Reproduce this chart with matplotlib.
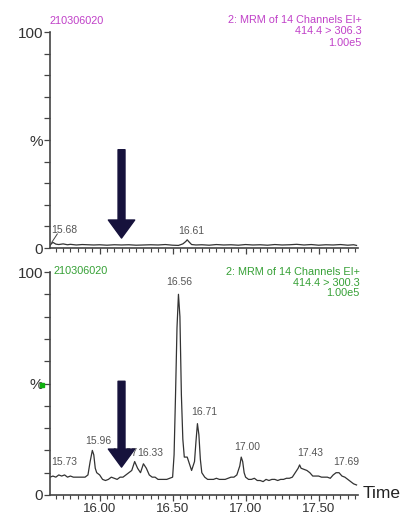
import matplotlib
matplotlib.use("Agg")
import matplotlib.pyplot as plt
from matplotlib.ticker import MultipleLocator, FixedLocator, FormatStrFormatter

plt.rcParams['font.family'] = ['Liberation Sans', 'DejaVu Sans']

# ---- data (time in min, intensity in %) ----
top_time = [15.66, 15.67, 15.68, 15.70, 15.72, 15.75, 15.78, 15.80, 15.84, 15.88,
            15.92, 15.96, 16.00, 16.05, 16.10, 16.15, 16.20, 16.25, 16.30, 16.35,
            16.40, 16.45, 16.50, 16.54, 16.57, 16.59, 16.60, 16.61, 16.63, 16.66,
            16.70, 16.75, 16.80, 16.85, 16.90, 16.95, 17.00, 17.05, 17.10, 17.15,
            17.20, 17.25, 17.30, 17.35, 17.40, 17.45, 17.50, 17.55, 17.60, 17.65,
            17.70, 17.74, 17.76]
top_pct = [1.2, 2.0, 2.6, 1.8, 1.6, 1.9, 1.5, 1.7, 1.4, 1.6,
           1.5, 1.4, 1.5, 1.3, 1.5, 1.4, 1.5, 1.3, 1.4, 1.5,
           1.4, 1.6, 1.3, 1.2, 1.9, 3.0, 3.8, 3.0, 1.6, 1.4,
           1.5, 1.3, 1.6, 1.4, 1.5, 1.3, 1.6, 1.4, 1.5, 1.3,
           1.6, 1.4, 1.5, 1.7, 1.4, 1.6, 1.3, 1.5, 1.4, 1.6,
           1.3, 1.5, 1.2]

bot_time = [15.66, 15.68, 15.70, 15.72, 15.74, 15.76, 15.78, 15.80, 15.82, 15.84,
            15.86, 15.88, 15.90, 15.92, 15.935, 15.95, 15.96, 15.97, 15.98, 16.00,
            16.02, 16.04, 16.06, 16.08, 16.10, 16.12, 16.14, 16.16, 16.18, 16.20,
            16.22, 16.24, 16.26, 16.28, 16.30, 16.32, 16.34, 16.36, 16.38, 16.40,
            16.42, 16.44, 16.46, 16.48, 16.50, 16.51, 16.52, 16.53, 16.54, 16.55,
            16.56, 16.57, 16.58, 16.60, 16.62, 16.63, 16.65, 16.66, 16.67, 16.68,
            16.69, 16.70, 16.72, 16.74, 16.76, 16.78, 16.80, 16.82, 16.84, 16.86,
            16.88, 16.90, 16.92, 16.94, 16.96, 16.97, 16.98, 16.99, 17.00, 17.02,
            17.04, 17.06, 17.08, 17.10, 17.12, 17.14, 17.16, 17.18, 17.20, 17.22,
            17.24, 17.26, 17.28, 17.30, 17.32, 17.34, 17.36, 17.37, 17.38, 17.40,
            17.42, 17.44, 17.46, 17.48, 17.50, 17.52, 17.54, 17.56, 17.58, 17.60,
            17.62, 17.64, 17.66, 17.68, 17.70, 17.72, 17.74, 17.76]
bot_pct = [8.0, 8.5, 8.0, 9.0, 8.5, 9.0, 8.0, 8.5, 8.0, 8.0,
           8.0, 8.0, 8.0, 9.0, 15.0, 20.0, 18.0, 12.0, 10.0, 9.0,
           7.0, 6.5, 7.0, 8.0, 7.5, 7.0, 8.0, 8.0, 9.0, 10.0,
           11.0, 15.0, 12.0, 10.0, 14.0, 12.0, 9.0, 8.0, 8.0, 7.0,
           7.0, 7.0, 7.0, 7.5, 8.0, 18.0, 45.0, 75.0, 90.0, 80.0,
           45.0, 25.0, 17.0, 17.0, 13.0, 11.0, 15.0, 24.0, 32.0, 27.0,
           16.0, 10.0, 8.0, 7.0, 7.0, 7.0, 7.5, 7.0, 7.0, 7.0,
           7.5, 8.0, 8.0, 9.0, 13.0, 17.0, 15.0, 10.0, 8.0, 7.0,
           7.0, 7.5, 6.5, 6.5, 6.0, 7.0, 6.5, 7.0, 7.0, 6.5,
           7.0, 7.0, 7.5, 7.5, 8.0, 10.0, 12.0, 13.5, 12.0, 11.5,
           11.0, 10.0, 8.5, 8.5, 8.5, 8.0, 8.0, 8.0, 7.5, 9.0,
           10.0, 10.0, 8.5, 8.0, 7.0, 6.0, 5.0, 4.5]

# peak annotations: (label, x, y)
top_labels = [("15.68", 15.76, 8.3), ("16.61", 16.63, 8.0)]
bot_labels = [("15.73", 15.76, 14.8), ("15.96", 15.99, 24.0), ("16.27", 16.17, 19.0),
              ("16.33", 16.345, 19.0), ("16.56", 16.545, 95.5), ("16.71", 16.715, 37.0),
              ("17.00", 17.01, 21.5), ("17.43", 17.445, 19.0), ("17.69", 17.69, 15.0)]

sample_id = "210306020"
top_header = ["2: MRM of 14 Channels EI+", "414.4 > 306.3", "1.00e5"]
bot_header = ["2: MRM of 14 Channels EI+", "414.4 > 300.3", "1.00e5"]
x_ticks = [16.00, 16.50, 17.00, 17.50]

W, H = 403, 517
magenta = '#c040c8'
green = '#35a035'
navy = '#16123c'
grey = '#555555'


def fx(px):
    return px / W


def fy(py):
    return 1 - py / H


fig = plt.figure(figsize=(W / 100, H / 100), dpi=100)
ax_top = fig.add_axes([fx(50), fy(248), fx(308), 216 / H])
ax_bot = fig.add_axes([fx(50), fy(495), fx(308), 223 / H])

for ax in (ax_top, ax_bot):
    ax.set_xlim(15.66, 17.77)
    ax.set_ylim(0, 100)
    for s in ('top', 'right'):
        ax.spines[s].set_visible(False)
    ax.spines['left'].set_color('#444444')
    ax.spines['bottom'].set_color('#444444')
    ax.spines['left'].set_linewidth(1.2)
    ax.spines['bottom'].set_linewidth(1.2)
    ax.yaxis.set_major_locator(FixedLocator([0, 50, 100]))
    ax.set_yticklabels(['0', '%', '100'])
    ax.yaxis.set_minor_locator(MultipleLocator(10))
    ax.tick_params(axis='y', which='both', direction='out', length=4, width=0.9,
                   colors='#444444', labelsize=11, labelcolor='#333333', pad=1)
    ax.xaxis.set_major_locator(FixedLocator(x_ticks))
    ax.xaxis.set_major_formatter(FormatStrFormatter('%.2f'))
    ax.xaxis.set_minor_locator(MultipleLocator(0.05))
    ax.tick_params(axis='x', which='major', direction='out', length=4, width=0.9,
                   colors='#444444', labelsize=9.5, labelcolor='#333333', pad=2)
    ax.tick_params(axis='x', which='minor', direction='out', length=3, width=0.8,
                   colors='#444444')
    ax.patch.set_alpha(0)

ax_top.set_xticklabels([])

ax_top.plot(top_time, top_pct, color='#333333', lw=0.9)
ax_bot.plot(bot_time, bot_pct, color='#333333', lw=0.9)

for lab, x, y in top_labels:
    ax_top.text(x, y, lab, ha='center', va='center', fontsize=7.5, color=grey)
for lab, x, y in bot_labels:
    ax_bot.text(x, y, lab, ha='center', va='center', fontsize=7.5, color=grey)

# leader line from "15.68" down to the first peak
ax_top.plot([15.672, 15.71], [2.6, 6.5], color='#444444', lw=0.7)

# headers
fig.text(fx(50), fy(21), sample_id, fontsize=7.8, color=magenta, ha='left', va='center')
for i, line in enumerate(top_header):
    fig.text(fx(362), fy(20 + 11.5 * i), line, fontsize=7.8, color=magenta,
             ha='right', va='center')
fig.text(fx(53), fy(271), sample_id, fontsize=7.8, color=green, ha='left', va='center')
for i, line in enumerate(bot_header):
    fig.text(fx(360), fy(272 + 10.5 * i), line, fontsize=7.8, color=green,
             ha='right', va='center')

# little green marker next to the bottom "%"
fig.patches.append(plt.Rectangle((fx(40), fy(387)), fx(4), 4 / H,
                                 transform=fig.transFigure, color='#10b010'))

fig.text(fx(363), fy(494), "Time", fontsize=12.5, color='#222222', ha='left', va='center')

# the two markers
arrow_style = 'simple,head_width=1.9,head_length=1.3,tail_width=0.5'
ax_top.annotate('', xy=(16.15, 4.6), xytext=(16.15, 45.5),
                arrowprops=dict(arrowstyle=arrow_style, color=navy, mutation_scale=10,
                                shrinkA=0, shrinkB=0), zorder=10)
ax_bot.annotate('', xy=(16.15, 12.5), xytext=(16.15, 51),
                arrowprops=dict(arrowstyle=arrow_style, color=navy, mutation_scale=10,
                                shrinkA=0, shrinkB=0), zorder=10)

fig.savefig("out.png", dpi=100)
